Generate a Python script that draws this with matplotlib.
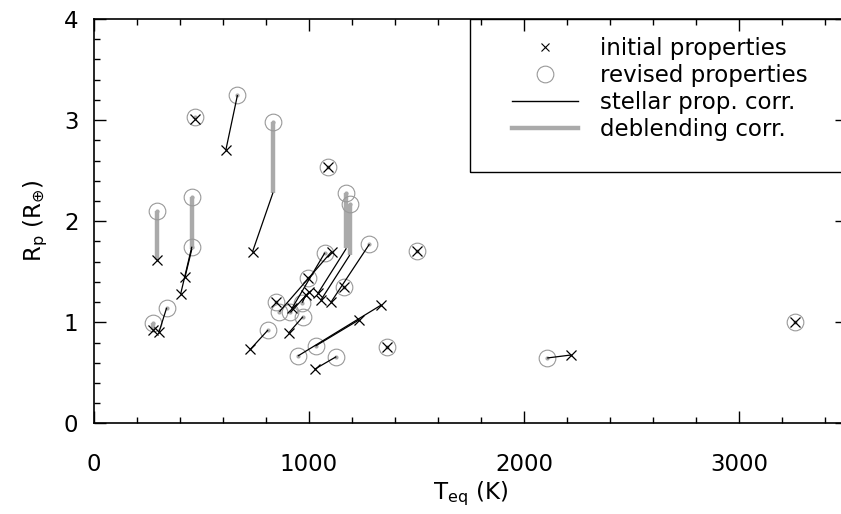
import numpy as np
import matplotlib
matplotlib.use("Agg")
import matplotlib.pyplot as plt
from matplotlib.lines import Line2D
from matplotlib.legend_handler import HandlerLine2D
from matplotlib.patches import Rectangle

# initial Teq / Rp, Teq / Rp after stellar correction, Rp after deblending
teq_init = [295, 404, 424, 274, 304, 470, 614, 738, 1090, 1042, 1057, 1104, 1161, 1105,
            921, 847, 994, 907, 1002, 986, 728, 1336, 1232, 1026, 1362, 1501, 2219, 3260]
rp_init = [1.616, 1.280, 1.445, 0.924, 0.907, 3.008, 2.704, 1.698, 2.535, 1.287, 1.224, 1.204,
           1.346, 1.698, 1.137, 1.204, 1.435, 0.897, 1.303, 1.270, 0.733, 1.171, 1.023, 0.535,
           0.753, 1.708, 0.677, 1.006]
teq_new = [295, 456, 456, 274, 339, 470, 668, 833, 1090, 1174, 1190, 1281, 1161, 863,
           1074, 847, 994, 972, 914, 969, 810, 949, 1031, 1127, 1362, 1501, 2107, 3260]
rp_stellar = [1.616, 1.748, 1.725, 0.924, 1.144, 3.008, 3.248, 2.282, 2.539, 1.732, 1.666,
              1.773, 1.346, 1.105, 1.688, 1.204, 1.435, 1.055, 1.097, 1.194, 0.924, 0.667,
              0.766, 0.660, 0.753, 1.708, 0.647, 1.006]
rp_new = [2.104, 1.748, 2.242, 0.996, 1.144, 3.034, 3.248, 2.978, 2.539, 2.276, 2.170,
          1.773, 1.346, 1.105, 1.688, 1.204, 1.435, 1.055, 1.097, 1.194, 0.924, 0.667,
          0.766, 0.660, 0.753, 1.708, 0.647, 1.006]

labels = ["initial properties", "revised properties", "stellar prop. corr.", "deblending corr."]

grey = "#aaaaaa"
fs = 16.5

fig = plt.figure(figsize=(8.41, 5.14), dpi=100)
ax = fig.add_axes([93.7/841, 1 - 423.4/514, (847 - 93.7)/841, (423.4 - 19)/514])

for ti, ri, ts, rs, rr in zip(teq_init, rp_init, teq_new, rp_stellar, rp_new):
    ax.plot([ts, ts], [rs, rr], color=grey, lw=3.2, solid_capstyle="butt", zorder=2)
    ax.plot([ti, ts], [ri, rs], color="k", lw=0.9, solid_capstyle="butt", zorder=4)

ax.plot(teq_new, rp_new, ls="none", marker="o", ms=12, mfc="none", mec="#999999", mew=0.8, zorder=3)
ax.plot(teq_new, rp_new, ls="none", marker="o", ms=3, mfc=grey, mec="none", zorder=3)
ax.plot(teq_init, rp_init, ls="none", marker="x", ms=7.5, color="k", mew=0.9, zorder=5)

ax.set_xlim(0, 3500)
ax.set_ylim(0, 4)
ax.set_xticks([0, 1000, 2000, 3000])
ax.set_xticks(np.arange(0, 3501, 200), minor=True)
ax.set_yticks([0, 1, 2, 3, 4])
ax.set_yticks(np.arange(0, 4.01, 0.2), minor=True)
ax.tick_params(which="both", direction="in", top=True, right=True, width=1, labelsize=fs)
ax.tick_params(axis="x", pad=21)
ax.tick_params(axis="y", pad=11)
ax.tick_params(which="major", length=8.5)
ax.tick_params(which="minor", length=4.3)
for s in ax.spines.values():
    s.set_linewidth(1.2)

ax.set_xlabel(r"T$_{\rm eq}$ (K)", fontsize=fs, labelpad=3)
ax.set_ylabel(r"R$_{\rm p}$ (R$_{\oplus}$)", fontsize=fs, labelpad=10)

# legend box
ax.add_patch(Rectangle((0.5, 0.622), 0.5, 0.378, transform=ax.transAxes, fill=False,
                       ec="k", lw=1.0, zorder=6))


class RightMarker(HandlerLine2D):
    def get_xdata(self, legend, xdescent, ydescent, width, height, fontsize):
        return [-xdescent, -xdescent + width], [-xdescent + width - 0.05 * fontsize]


handles = [
    Line2D([], [], ls="none", marker="x", ms=5.5, color="k", mew=0.8),
    Line2D([], [], ls="none", marker="o", ms=12, mfc="none", mec="#999999", mew=0.8),
    Line2D([], [], color="k", lw=1.0),
    Line2D([], [], color=grey, lw=3.2),
]
leg = ax.legend(handles, labels, loc="upper left", bbox_to_anchor=(0.555, 0.955),
                frameon=False, fontsize=fs, handlelength=2.9, handletextpad=0.95,
                labelspacing=0.17, borderpad=0, borderaxespad=0, numpoints=1,
                handler_map={h: RightMarker() for h in handles})

fig.savefig("out.png", dpi=100)
